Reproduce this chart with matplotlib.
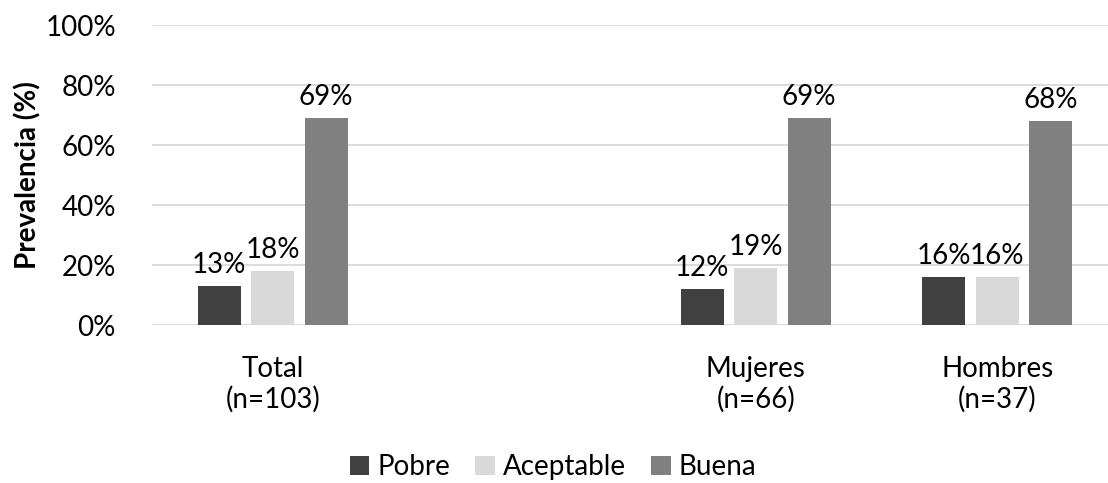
import matplotlib
matplotlib.use('Agg')
import matplotlib.pyplot as plt
import numpy as np

plt.rcParams['font.family'] = ['Lato', 'DejaVu Sans']

# categorias (la segunda queda vacia, como en el original)
grupos = ['Total\n(n=103)', '', 'Mujeres\n(n=66)', 'Hombres\n(n=37)']
series = ['Pobre', 'Aceptable', 'Buena']
pobre = [13, np.nan, 12, 16]
aceptable = [18, np.nan, 19, 16]
buena = [69, np.nan, 69, 68]
colores = ['#404040', '#d9d9d9', '#808080']
fs = 20

fig = plt.figure(figsize=(11.08, 4.83), dpi=100, facecolor='white')
# el area de trazado sigue un poco mas alla del borde derecho
ax = fig.add_axes([152/1108, 1-325/483, 966/1108, 300/483])

x = np.arange(len(grupos))
wid = 0.178
paso = 0.2215
for i, (nom, vals, col) in enumerate(zip(series, [pobre, aceptable, buena], colores)):
    pos = x + (i-1)*paso
    ax.bar(pos, vals, wid, color=col, label=nom, zorder=3, linewidth=0)
    for p, v in zip(pos, vals):
        if np.isnan(v):
            continue
        ax.annotate('%d%%' % v, (p, v), xytext=(0, 6), textcoords='offset points',
                    ha='center', va='bottom', fontsize=fs, color='black')

ax.set_xlim(-0.5, len(grupos)-0.5)
ax.set_ylim(0, 100)
ax.set_yticks(np.arange(0, 101, 20))
ax.set_yticklabels(['%d%%' % t for t in range(0, 101, 20)], fontsize=fs)
ax.set_xticks(x)
ax.set_xticklabels(grupos, fontsize=fs, linespacing=1.2)
ax.tick_params(length=0, which='both')
ax.tick_params(axis='x', pad=22)
ax.tick_params(axis='y', pad=26)
for s in ax.spines.values():
    s.set_visible(False)
ax.grid(axis='y', color='#d9d9d9', linewidth=1.3, zorder=0)
ax.set_axisbelow(True)
ax.set_ylabel('Prevalencia (%)', fontsize=fs, fontweight='bold', labelpad=3)

fig.legend(loc='center', bbox_to_anchor=(553/1108, 1-467/483), ncol=3, frameon=False,
           fontsize=fs, handlelength=0.7, handleheight=0.7, handletextpad=0.3,
           columnspacing=0.9)

fig.savefig('out.png', dpi=100, facecolor='white')
